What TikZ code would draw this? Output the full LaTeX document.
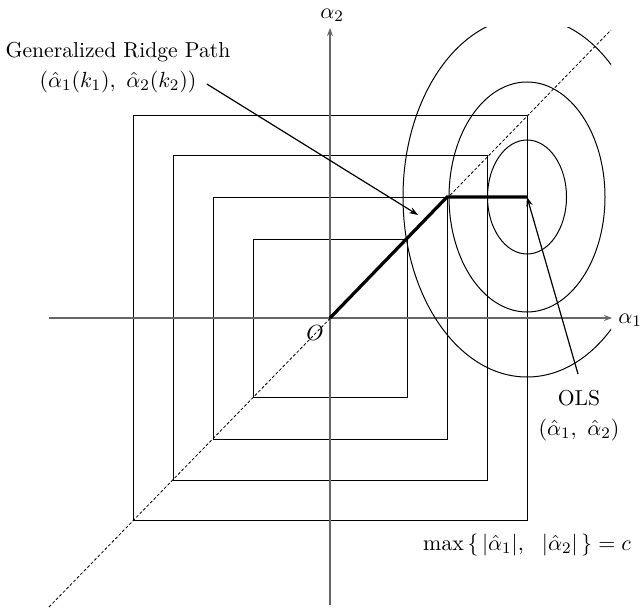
\documentclass[tikz,border=0pt]{standalone}
\usetikzlibrary{arrows.meta}
\begin{document}
\begin{tikzpicture}[x=0.5pt,y=-0.5pt,
  every node/.style={font=\fontsize{10.8}{13}\selectfont, inner sep=0pt},
  axis/.style={gray!80!black, line width=0.6pt, -{Stealth[length=4pt,width=3pt]}},
  sq/.style={line width=0.5pt},
  ell/.style={line width=0.5pt},
  path/.style={line width=1.6pt},
  pointer/.style={line width=0.6pt, -{Stealth[length=4.5pt,width=3.2pt]}},
  diag/.style={line width=0.4pt, dash pattern=on 1.5pt off 1pt}]
\useasboundingbox (0,0) rectangle (641,609);
% key points
\coordinate (O) at (330,318);
\coordinate (kink) at (447,197);
\coordinate (ols) at (527,197);
\coordinate (xs) at (49,318);
\coordinate (xe) at (612,318);
\coordinate (ys) at (330,605);
\coordinate (ye) at (330,28);
\coordinate (ds) at (49,607);
\coordinate (de) at (611,30);
\coordinate (ridgetip) at (418,215);
\coordinate (olsstart) at (578,374);
% squares
\draw[sq] (133,116) rectangle (527,520);
\draw[sq] (173,156) rectangle (487,480);
\draw[sq] (213,197) rectangle (447,439);
\draw[sq] (253,239) rectangle (407,397);
% axes
\draw[axis] (xs) -- (xe);
\draw[axis] (ys) -- (ye);
% diagonal
\draw[diag] (ds) -- (de);
% ellipses
\draw[ell] (ols) ellipse [x radius=39.5, y radius=57];
\draw[ell] (ols) ellipse [x radius=78, y radius=115];
\begin{scope}
  \clip (0,28) rectangle (611,609);
  \draw[ell] (ols) ellipse [x radius=124, y radius=180];
\end{scope}
% ridge path
\draw[path, line join=miter] (O) -- (kink) -- (ols);
% labels
\node (a2) at (332,15) {$\alpha_2$};
\node (a1) at (630,320) {$\alpha_1$};
\node (o) at (315,333) {$O$};
\node (gr1) at (118,52) {Generalized Ridge Path};
\node (gr2) at (118,82) {$(\hat{\alpha}_1(k_1),\ \hat{\alpha}_2(k_2))$};
\node (ols1) at (579,398) {OLS};
\node (ols2) at (579,430) {$(\hat{\alpha}_1,\ \hat{\alpha}_2)$};
\node (mx) at (527,545) {$\max\,\{\,|\hat{\alpha}_1|,\ \ |\hat{\alpha}_2|\,\}=c$};
% pointers
\draw[pointer] ([xshift=5pt,yshift=-1pt]gr2.east) -- (ridgetip);
\draw[pointer] (olsstart) -- (ols);
\end{tikzpicture}
\end{document}
